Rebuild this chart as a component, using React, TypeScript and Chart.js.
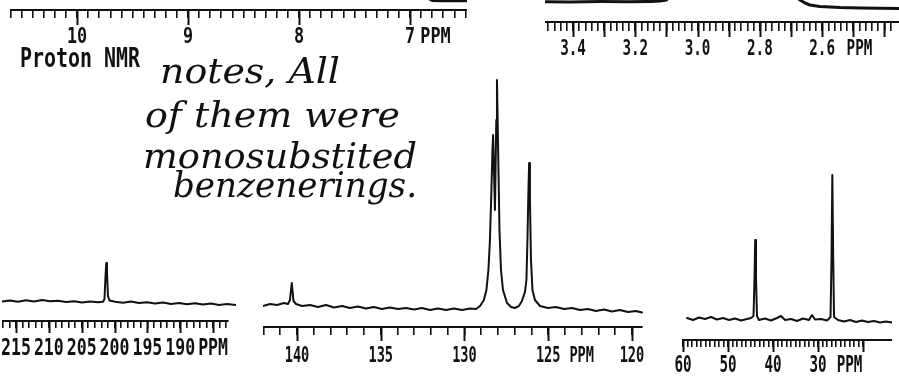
import React, { useEffect, useLayoutEffect, useRef } from 'react';
import { Chart, registerables } from 'chart.js';

Chart.register(...registerables);

const INK = '#111';

// ---------------- tick helpers ----------------
const tickRange = (from: number, to: number, step: number): number[] => {
  const n = Math.round((from - to) / step);
  return Array.from({ length: n + 1 }, (_, i) => +(from - i * step).toFixed(3));
};

// ---------------- Proton NMR, 10 - 7 ppm axis ----------------
const protonHiTicks = tickRange(10.6, 6.5, 0.1);
const protonHiMajor = [10, 9, 8, 7];
const protonHiLabelValues = [10, 9, 8, 7, 6.77];
const protonHiLabels = ['10', '9', '8', '7', 'PPM'];
const protonHiTracePpm = [6.86, 6.8, 6.72, 6.64, 6.56, 6.48];
const protonHiTraceInt = [13, 9.3, 9, 9.2, 9, 9.1];

// ---------------- Proton NMR, 3.4 - 2.6 ppm axis ----------------
const protonLoTicks = tickRange(3.48, 2.38, 0.02);
const protonLoMajor = tickRange(3.4, 2.4, 0.1);
const protonLoLabelValues = [3.4, 3.2, 3.0, 2.8, 2.6, 2.48];
const protonLoLabels = ['3.4', '3.2', '3.0', '2.8', '2.6', 'PPM'];
const protonLoTraceAPpm = [3.49, 3.41, 3.31, 3.22, 3.15, 3.12, 3.1, 3.095, 3.085];
const protonLoTraceAInt = [20.3, 20, 20.4, 20.2, 20.6, 21, 22, 24, 27];
const protonLoTraceBPpm = [2.69, 2.671, 2.655, 2.639, 2.607, 2.542, 2.478, 2.414, 2.353];
const protonLoTraceBInt = [27, 22, 19, 17, 15.5, 14.5, 14, 13.7, 13.5];

// ---------------- Carbon NMR, 215 - 190 ppm ----------------
const carbonKetoTicks = tickRange(217, 183, 1);
const carbonKetoMajor = [215, 210, 205, 200, 195, 190, 185];
const carbonKetoLabelValues = [215, 210, 205, 200, 195, 190, 185];
const carbonKetoLabels = ['215', '210', '205', '200', '195', '190', 'PPM'];
const carbonKetoPpm = [
  217.13, 215.91, 214.69, 213.48, 212.26, 211.04, 209.82, 208.61, 207.39, 206.17, 204.95, 203.74,
  202.52, 201.76, 201.53, 201.38, 201.26, 201.15, 201.0, 200.77, 199.93, 198.71, 197.5, 196.28,
  195.06, 193.84, 192.62, 191.41, 190.19, 188.97, 187.75, 186.54, 185.32, 184.1, 182.88, 181.51,
];
const carbonKetoInt = [
  0.5, 1.5, 0.2, 1.8, 0.6, 2.0, 0.8, 1.2, 0.0, 0.8, -0.5, 0.6,
  -0.3, 0.2, 3, 25, 39, 30, 6, 1.5, 0.3, -0.8, 0.4, -1.0,
  -0.2, -1.5, -0.6, -2.0, -1.0, -2.2, -1.2, -2.5, -1.6, -3.0, -2.0, -3.0,
];

// ---------------- Carbon NMR, 140 - 120 ppm ----------------
const carbonAroTicks = tickRange(142, 120, 1);
const carbonAroMajor = [140, 135, 130, 125, 120];
const carbonAroLabelValues = [140, 135, 130, 125, 123, 120];
const carbonAroLabels = ['140', '135', '130', '125', 'PPM', '120'];
const carbonAroPpm = [
  142.03, 141.61, 141.19, 140.78, 140.54, 140.42, 140.36, 140.31, 140.26, 140.21, 140.06, 139.7,
  139.22, 138.75, 138.27, 137.79, 137.31, 136.84, 136.36, 135.88, 135.4, 134.93, 134.45, 133.97,
  133.49, 133.01, 132.54, 132.06, 131.58, 131.1, 130.63, 130.15, 129.67, 129.31, 129.07, 128.84,
  128.69, 128.57, 128.48, 128.39, 128.33, 128.29, 128.18, 128.1, 128.06, 128.0, 127.91, 127.82,
  127.7, 127.46, 127.22, 126.99, 126.75, 126.57, 126.39, 126.3, 126.24, 126.18, 126.14, 126.09,
  126.03, 125.94, 125.79, 125.49, 125.02, 124.54, 124.06, 123.58, 123.1, 122.63, 122.15, 121.67,
  121.19, 120.72, 120.24, 119.76, 119.4,
];
const carbonAroInt = [
  -1, 1, 0, 2, 1, 5, 15, 22, 13, 4, 1, -1,
  0, -2, 0, -2.5, -1, -3, -1.5, -3.5, -2, -4, -2.5, -4,
  -3, -4.5, -3, -5, -3.5, -5, -3.5, -5, -3.5, -4, -1, 5,
  15, 35, 65, 115, 155, 170, 95, 185, 225, 165, 75, 35,
  15, 2, -2, -3, -1, 4, 13, 25, 65, 115, 142, 105,
  45, 15, 5, -1, -3, -2, -4, -3, -5, -4, -6, -4.5,
  -6.5, -5, -7, -6, -7.5,
];

// ---------------- Carbon NMR, 60 - 20 ppm ----------------
const carbonAliTicks = tickRange(60, 20, 1);
const carbonAliMajor = [60, 50, 40, 30, 20];
const carbonAliLabelValues = [60, 50, 40, 30, 23];
const carbonAliLabels = ['60', '50', '40', '30', 'PPM'];
const carbonAliPpm = [
  59.11, 57.78, 56.44, 55.11, 53.78, 52.44, 51.11, 49.78, 48.44, 47.11, 45.78, 44.89,
  44.33, 44.11, 43.96, 43.78, 43.56, 43.11, 41.78, 40.44, 39.11, 38.22, 37.33, 36.0,
  34.67, 33.33, 32.0, 31.33, 30.67, 29.33, 28.0, 27.22, 27.0, 26.82, 26.62, 26.44,
  25.56, 24.22, 22.89, 21.56, 20.22, 18.89, 17.56, 16.22, 14.89, 13.56,
];
const carbonAliInt = [
  1, -1, 1.5, 0, 2, -0.5, 1, -1, 0.5, -1.5, 0, 1,
  3, 40, 79, 40, 3, -1, 0.5, -1.5, 1, 3, -1, 0,
  -2, 0.5, -1, 4, -0.5, 0, -1.5, 2, 60, 144, 60, 2,
  -1, -2.5, -1, -3, -1.5, -3, -2, -3.5, -2.5, -3.5,
];

// ---------------- handwritten note ----------------
const noteLines = ['notes, All', 'of them were', 'monosubstited', 'benzenerings.'];

// ---------------- components ----------------
type Series = { x: number[]; y: number[]; width?: number };
type PanelProps = {
  left: number; top: number; width: number; height: number; axisHeight: number;
  padLeft?: number; padRight?: number; clipRight?: number;
  xMin: number; xMax: number; yMin: number; yMax: number;
  ticks: number[]; majors: number[]; labelValues: number[]; labels: string[];
  tickLen: number; majorLen: number; labelTop: number; fontSize: number; sx: number;
  series: Series[];
};

function Panel(p: PanelProps) {
  const ref = useRef<HTMLCanvasElement>(null);
  useEffect(() => {
    const canvas = ref.current;
    if (!canvas) return;
    const decor = {
      id: 'axisDecor',
      afterDraw(chart: any) {
        const s = chart.scales.x;
        const ctx = chart.ctx as CanvasRenderingContext2D;
        const y0 = s.top;
        ctx.save();
        ctx.strokeStyle = INK;
        ctx.lineWidth = 2;
        for (const v of p.majors) {
          const x = Math.round(s.getPixelForValue(v)) + 0.5;
          ctx.beginPath();
          ctx.moveTo(x, y0);
          ctx.lineTo(x, y0 + p.majorLen);
          ctx.stroke();
        }
        ctx.fillStyle = INK;
        ctx.font = `bold ${p.fontSize}px "DejaVu Sans Mono"`;
        ctx.textAlign = 'center';
        ctx.textBaseline = 'alphabetic';
        const yb = y0 + p.labelTop + 0.729 * p.fontSize;
        p.labelValues.forEach((v, i) => {
          const x = s.getPixelForValue(v);
          ctx.save();
          ctx.translate(x, yb);
          ctx.scale(p.sx, 1);
          ctx.fillText(p.labels[i], 0, 0);
          ctx.restore();
        });
        ctx.restore();
      },
    };
    const chart = new Chart(canvas, {
      type: 'line',
      data: {
        datasets: p.series.map((s) => ({
          data: s.x.map((v, i) => ({ x: v, y: s.y[i] })),
          borderColor: INK,
          borderWidth: s.width ?? 2,
          pointRadius: 0,
          tension: 0,
          fill: false,
          borderJoinStyle: 'round',
          borderCapStyle: 'round',
          clip: { left: 2, top: 0, right: p.clipRight ?? 2, bottom: 4 },
        })) as any,
      },
      options: {
        responsive: false,
        animation: false,
        devicePixelRatio: 1,
        events: [],
        layout: {
          autoPadding: false,
          padding: { left: p.padLeft ?? 0, right: p.padRight ?? 0, top: 0, bottom: 0 },
        } as any,
        plugins: { legend: { display: false }, tooltip: { enabled: false } },
        scales: {
          x: {
            type: 'linear',
            position: 'bottom',
            reverse: true,
            bounds: 'data',
            min: p.xMin,
            max: p.xMax,
            afterBuildTicks: (s: any) => {
              s.ticks = p.ticks.map((v) => ({ value: v }));
            },
            afterFit: (s: any) => {
              s.height = p.axisHeight;
            },
            ticks: { display: false },
            grid: {
              display: true,
              drawOnChartArea: false,
              drawTicks: true,
              tickLength: p.tickLen,
              color: INK,
              lineWidth: 1.6,
            },
            border: { display: true, color: INK, width: 2 },
          } as any,
          y: { display: false, min: p.yMin, max: p.yMax },
        },
      },
      plugins: [decor],
    });
    return () => chart.destroy();
  }, []);
  return (
    <canvas
      ref={ref}
      width={p.width}
      height={p.height}
      style={{ position: 'absolute', left: p.left, top: p.top }}
    />
  );
}

type FitProps = {
  text: string; x: number; baseline: number; width: number; size: number;
  family: string; italic?: boolean; bold?: boolean;
};

function FitText(p: FitProps) {
  const ref = useRef<HTMLDivElement>(null);
  useLayoutEffect(() => {
    const el = ref.current;
    if (!el) return;
    el.style.transform = 'none';
    const w = el.getBoundingClientRect().width;
    if (w > 0) el.style.transform = `scaleX(${p.width / w})`;
  }, [p.text, p.width]);
  return (
    <div
      ref={ref}
      style={{
        position: 'absolute',
        left: p.x,
        top: p.baseline - 0.846 * p.size,
        font: `${p.italic ? 'italic ' : ''}${p.bold ? 'bold ' : ''}${p.size}px ${p.family}`,
        lineHeight: 1,
        whiteSpace: 'nowrap',
        transformOrigin: '0 0',
        color: INK,
      }}
    >
      {p.text}
    </div>
  );
}

export default function App() {
  const hand = '"DejaVu Serif", serif';
  return (
    <div
      style={{
        position: 'fixed', left: 0, top: 0, width: 899, height: 382,
        background: '#fff', overflow: 'hidden',
      }}
    >
      <Panel
        left={10} top={0} width={457} height={50} axisHeight={40}
        xMin={6.486} xMax={10.604} yMin={0} yMax={10}
        ticks={protonHiTicks} majors={protonHiMajor}
        labelValues={protonHiLabelValues} labels={protonHiLabels}
        tickLen={8} majorLen={15} labelTop={18} fontSize={21} sx={0.8}
        series={[{ x: protonHiTracePpm, y: protonHiTraceInt, width: 2.5 }]}
      />
      <Panel
        left={545} top={0} width={354} height={62} axisHeight={40}
        xMin={2.353} xMax={3.49} yMin={0} yMax={22}
        ticks={protonLoTicks} majors={protonLoMajor}
        labelValues={protonLoLabelValues} labels={protonLoLabels}
        tickLen={9} majorLen={15} labelTop={18} fontSize={21} sx={0.68}
        series={[
          { x: protonLoTraceAPpm, y: protonLoTraceAInt, width: 3 },
          { x: protonLoTraceBPpm, y: protonLoTraceBInt, width: 3 },
        ]}
      />
      <Panel
        left={2} top={200} width={234} height={161} axisHeight={40} padRight={8} clipRight={10}
        xMin={182.73} xMax={217.13} yMin={-19} yMax={102}
        ticks={carbonKetoTicks} majors={carbonKetoMajor}
        labelValues={carbonKetoLabelValues} labels={carbonKetoLabels}
        tickLen={7} majorLen={12} labelTop={17} fontSize={23} sx={0.72}
        series={[{ x: carbonKetoPpm, y: carbonKetoInt }]}
      />
      <Panel
        left={263} top={0} width={393} height={367} axisHeight={40} padRight={14}
        xMin={119.4} xMax={142.03} yMin={-22} yMax={305}
        ticks={carbonAroTicks} majors={carbonAroMajor}
        labelValues={carbonAroLabelValues} labels={carbonAroLabels}
        tickLen={8} majorLen={14} labelTop={19} fontSize={22} sx={0.62}
        series={[{ x: carbonAroPpm, y: carbonAroInt }]}
      />
      <Panel
        left={670} top={0} width={222} height={380} axisHeight={40} padLeft={13}
        xMin={13.56} xMax={60} yMin={-21} yMax={319}
        ticks={carbonAliTicks} majors={carbonAliMajor}
        labelValues={carbonAliLabelValues} labels={carbonAliLabels}
        tickLen={7} majorLen={12} labelTop={15} fontSize={23} sx={0.62}
        series={[{ x: carbonAliPpm, y: carbonAliInt }]}
      />
      <FitText text="Proton NMR" x={20} baseline={67} width={120} size={26}
        family='"DejaVu Sans Mono", monospace' bold />
      <FitText text={noteLines[0]} x={160} baseline={83} width={180} size={36} family={hand} italic />
      <FitText text={noteLines[1]} x={145} baseline={127} width={255} size={36} family={hand} italic />
      <FitText text={noteLines[2]} x={143} baseline={168} width={274} size={36} family={hand} italic />
      <FitText text={noteLines[3]} x={173} baseline={197} width={244} size={36} family={hand} italic />
    </div>
  );
}
